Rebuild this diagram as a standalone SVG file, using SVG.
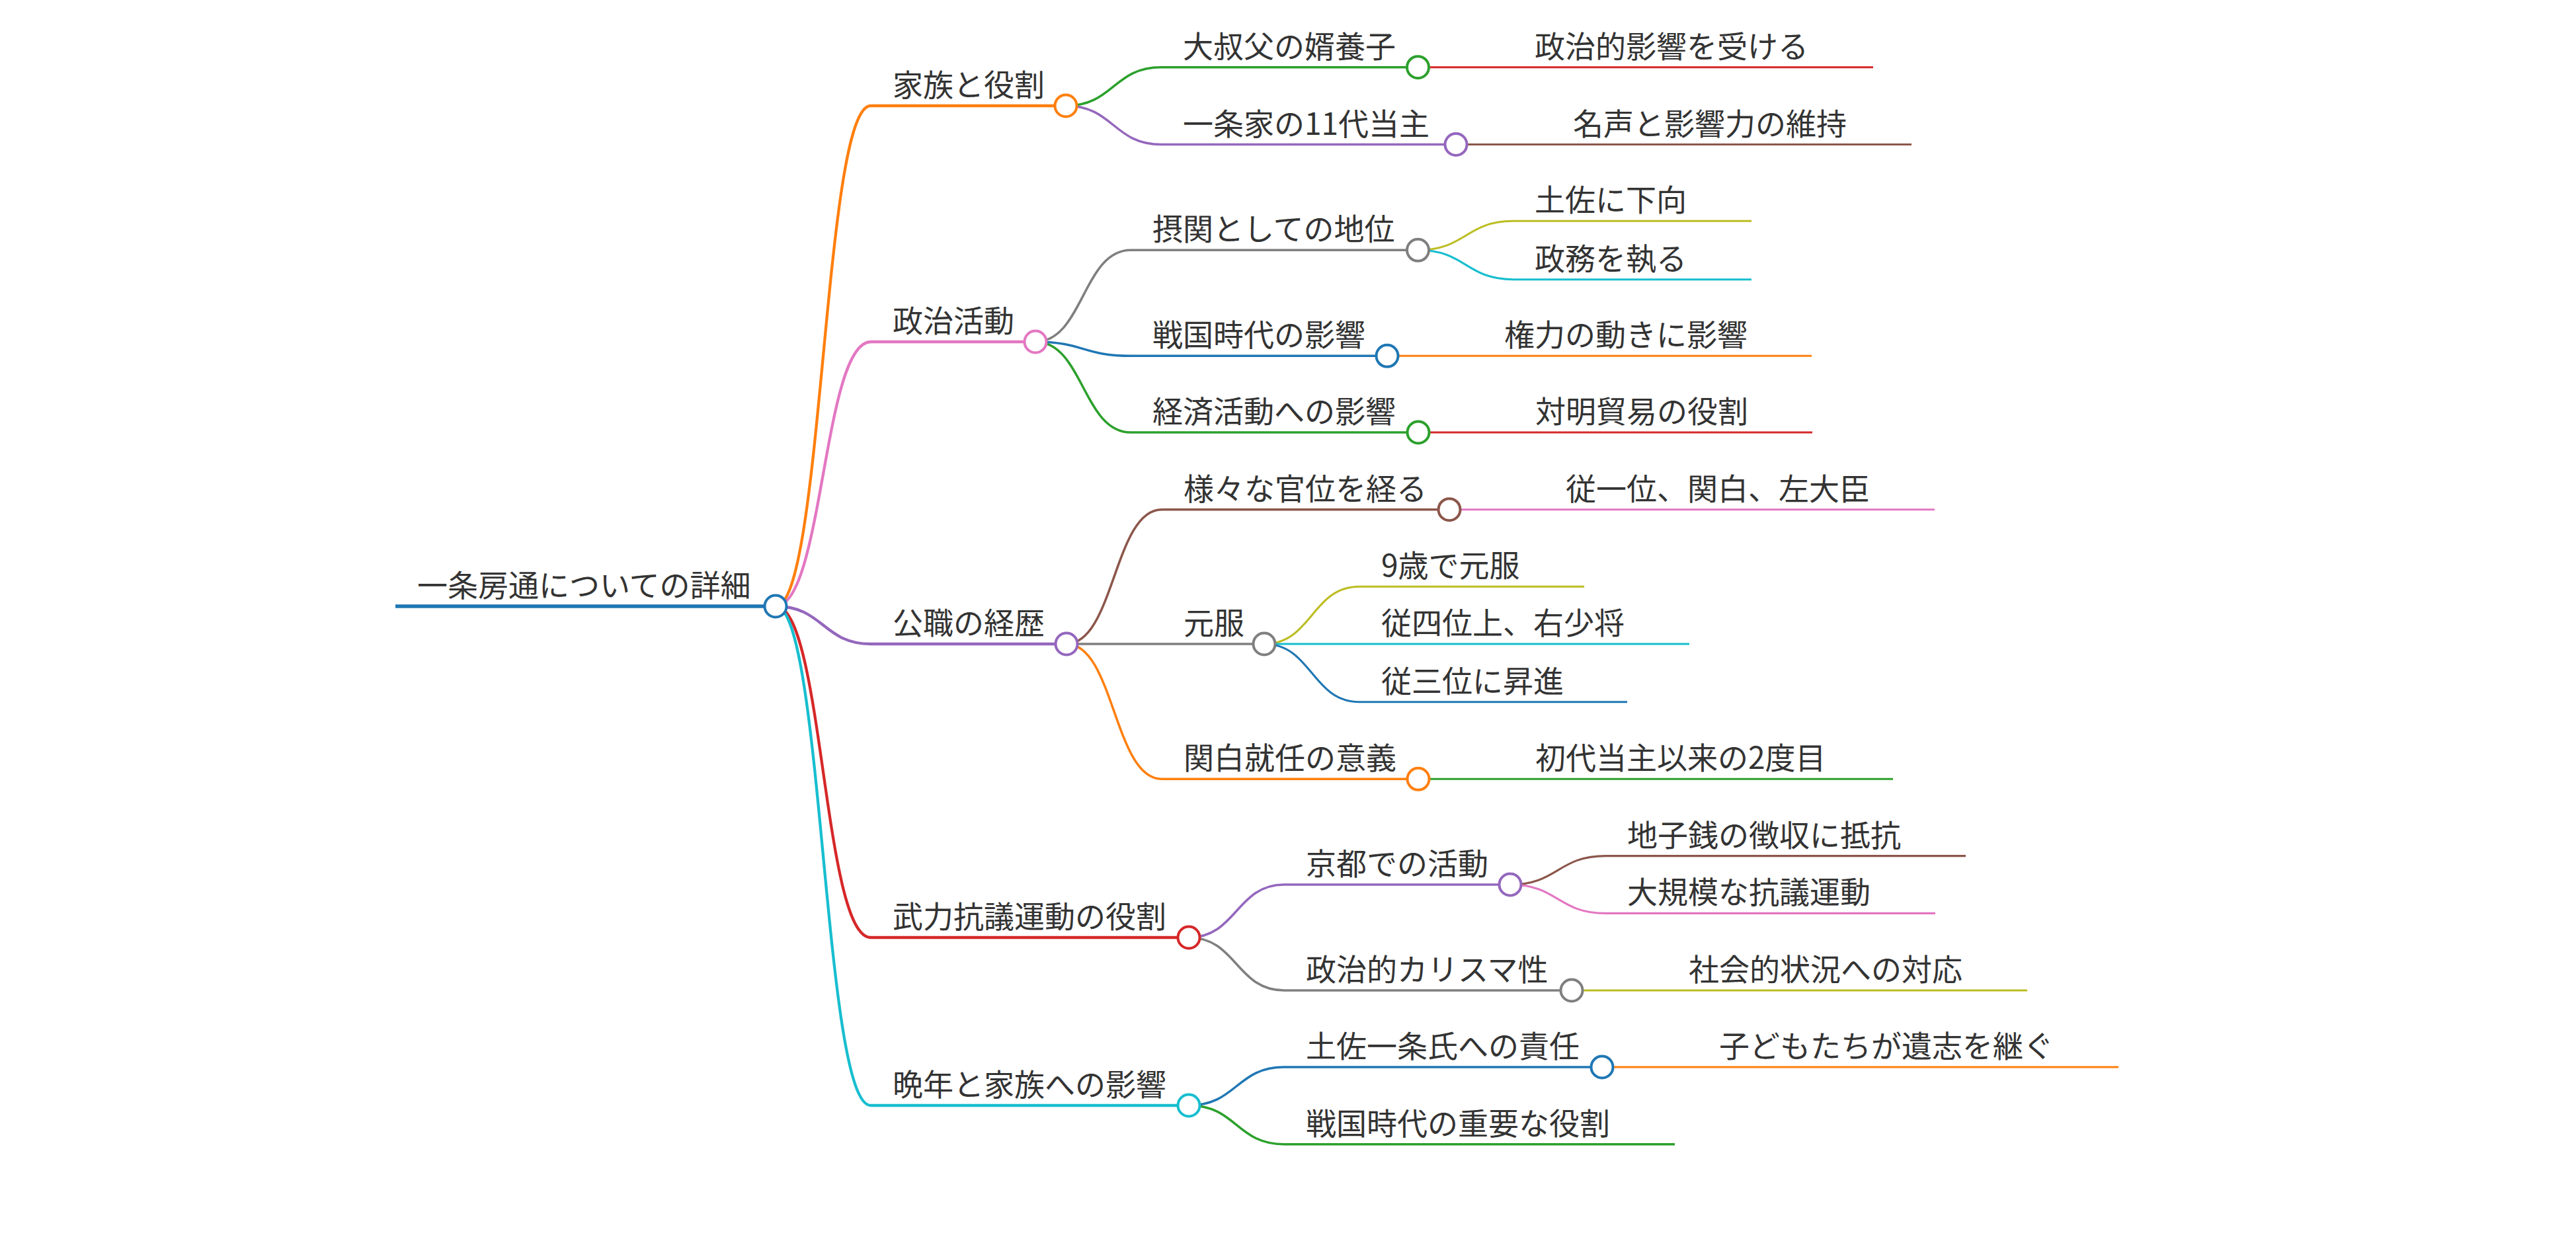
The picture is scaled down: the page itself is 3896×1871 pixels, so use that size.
<svg xmlns="http://www.w3.org/2000/svg" width="3896" height="1871" viewBox="0 0 3896 1871">
<style>
.t{font-family:"Noto Sans CJK JP","Noto Sans",sans-serif;font-size:46px;fill:#333333}
.lk{fill:none}
.c{fill:#ffffff;stroke-width:4}
.d0{stroke-width:5.4}.d1{stroke-width:4.3}.d2{stroke-width:3.5}.d3{stroke-width:3.1}
.c0{stroke:#1f77b4}.c1{stroke:#ff7f0e}.c2{stroke:#2ca02c}.c3{stroke:#d62728}.c4{stroke:#9467bd}
.c5{stroke:#8c564b}.c6{stroke:#e377c2}.c7{stroke:#7f7f7f}.c8{stroke:#bcbd22}.c9{stroke:#17becf}
</style>
<rect width="3896" height="1871" fill="#ffffff"/>
<g id="connectors" class="lk">
<path class="d1 c1" d="M1173 917 C1245 917 1245 160 1317 160"/>
<path class="d1 c6" d="M1173 917 C1245 917 1245 517 1317 517"/>
<path class="d1 c4" d="M1173 917 C1245 917 1245 974 1317 974"/>
<path class="d1 c3" d="M1173 917 C1245 917 1245 1418 1317 1418"/>
<path class="d1 c9" d="M1173 917 C1245 917 1245 1672 1317 1672"/>
<path class="d2 c2" d="M1612 160 C1684 160 1684 101.7 1756 101.7"/>
<path class="d2 c4" d="M1612 160 C1684 160 1684 218.5 1756 218.5"/>
<path class="d3 c3" d="M2144.5 101.7 L2289 101.7"/>
<path class="d3 c5" d="M2202 218.5 L2347 218.5"/>
<path class="d2 c7" d="M1566 517 C1638 517 1638 378.3 1710 378.3"/>
<path class="d2 c0" d="M1566 517 C1638 517 1638 538.3 1710 538.3"/>
<path class="d2 c2" d="M1566 517 C1638 517 1638 654 1710 654"/>
<path class="d3 c8" d="M2144.5 378.3 C2217 378.3 2217 334.3 2289 334.3"/>
<path class="d3 c9" d="M2144.5 378.3 C2217 378.3 2217 422.7 2289 422.7"/>
<path class="d3 c1" d="M2098 538.3 L2242 538.3"/>
<path class="d3 c3" d="M2145 654 L2289 654"/>
<path class="d2 c5" d="M1613 974 C1685 974 1685 770.7 1757 770.7"/>
<path class="d2 c7" d="M1613 974 C1685 974 1685 974 1757 974"/>
<path class="d2 c1" d="M1613 974 C1685 974 1685 1178.3 1757 1178.3"/>
<path class="d3 c6" d="M2192 770.7 L2336 770.7"/>
<path class="d3 c8" d="M1912 974 C1984 974 1984 887.3 2056 887.3"/>
<path class="d3 c9" d="M1912 974 L2056 974"/>
<path class="d3 c0" d="M1912 974 C1984 974 1984 1061.7 2056 1061.7"/>
<path class="d3 c2" d="M2145 1178.3 L2289 1178.3"/>
<path class="d2 c4" d="M1798 1418 C1870 1418 1870 1338 1942 1338"/>
<path class="d2 c7" d="M1798 1418 C1870 1418 1870 1498 1942 1498"/>
<path class="d3 c5" d="M2284 1338 C2356 1338 2356 1294.6 2428 1294.6"/>
<path class="d3 c6" d="M2284 1338 C2356 1338 2356 1381.4 2428 1381.4"/>
<path class="d3 c8" d="M2377 1498 L2521 1498"/>
<path class="d2 c0" d="M1798 1672 C1870 1672 1870 1614 1942 1614"/>
<path class="d2 c2" d="M1798 1672 C1870 1672 1870 1730.7 1942 1730.7"/>
<path class="d3 c1" d="M2423 1614 L2567 1614"/>
</g>
<g id="root"><line class="d0 c0" x1="598" y1="917" x2="1173" y2="917"/><circle class="c c0" cx="1173" cy="917" r="16.5"/><text class="t" x="631" y="902">一条房通についての詳細</text></g>
<g id="n1"><line class="d1 c1" x1="1317" y1="160" x2="1612" y2="160"/><circle class="c c1" cx="1612" cy="160" r="16.5"/><text class="t" x="1350" y="145">家族と役割</text></g>
<g id="n1a"><line class="d2 c2" x1="1756" y1="101.7" x2="2144.5" y2="101.7"/><circle class="c c2" cx="2144.5" cy="101.7" r="16.5"/><text class="t" x="1789" y="86.7">大叔父の婿養子</text></g>
<g id="n1a1"><line class="d3 c3" x1="2289" y1="101.7" x2="2833" y2="101.7"/><text class="t" x="2321" y="86.7">政治的影響を受ける</text></g>
<g id="n1b"><line class="d2 c4" x1="1756" y1="218.5" x2="2202" y2="218.5"/><circle class="c c4" cx="2202" cy="218.5" r="16.5"/><text class="t" x="1789" y="203.5">一条家の11代当主</text></g>
<g id="n1b1"><line class="d3 c5" x1="2347" y1="218.5" x2="2891" y2="218.5"/><text class="t" x="2379" y="203.5">名声と影響力の維持</text></g>
<g id="n2"><line class="d1 c6" x1="1317" y1="517" x2="1566" y2="517"/><circle class="c c6" cx="1566" cy="517" r="16.5"/><text class="t" x="1350" y="502">政治活動</text></g>
<g id="n2a"><line class="d2 c7" x1="1710" y1="378.3" x2="2144.5" y2="378.3"/><circle class="c c7" cx="2144.5" cy="378.3" r="16.5"/><text class="t" x="1743" y="363.3">摂関としての地位</text></g>
<g id="n2a1"><line class="d3 c8" x1="2289" y1="334.3" x2="2649" y2="334.3"/><text class="t" x="2321" y="319.3">土佐に下向</text></g>
<g id="n2a2"><line class="d3 c9" x1="2289" y1="422.7" x2="2649" y2="422.7"/><text class="t" x="2321" y="407.7">政務を執る</text></g>
<g id="n2b"><line class="d2 c0" x1="1710" y1="538.3" x2="2098" y2="538.3"/><circle class="c c0" cx="2098" cy="538.3" r="16.5"/><text class="t" x="1743" y="523.3">戦国時代の影響</text></g>
<g id="n2b1"><line class="d3 c1" x1="2242" y1="538.3" x2="2740" y2="538.3"/><text class="t" x="2275" y="523.3">権力の動きに影響</text></g>
<g id="n2c"><line class="d2 c2" x1="1710" y1="654" x2="2145" y2="654"/><circle class="c c2" cx="2145" cy="654" r="16.5"/><text class="t" x="1743" y="639">経済活動への影響</text></g>
<g id="n2c1"><line class="d3 c3" x1="2289" y1="654" x2="2741" y2="654"/><text class="t" x="2322" y="639">対明貿易の役割</text></g>
<g id="n3"><line class="d1 c4" x1="1317" y1="974" x2="1613" y2="974"/><circle class="c c4" cx="1613" cy="974" r="16.5"/><text class="t" x="1350" y="959">公職の経歴</text></g>
<g id="n3a"><line class="d2 c5" x1="1757" y1="770.7" x2="2192" y2="770.7"/><circle class="c c5" cx="2192" cy="770.7" r="16.5"/><text class="t" x="1790" y="755.7">様々な官位を経る</text></g>
<g id="n3a1"><line class="d3 c6" x1="2336" y1="770.7" x2="2926" y2="770.7"/><text class="t" x="2368" y="755.7">従一位、関白、左大臣</text></g>
<g id="n3b"><line class="d2 c7" x1="1757" y1="974" x2="1912" y2="974"/><circle class="c c7" cx="1912" cy="974" r="16.5"/><text class="t" x="1790" y="959">元服</text></g>
<g id="n3b1"><line class="d3 c8" x1="2056" y1="887.3" x2="2396" y2="887.3"/><text class="t" x="2089" y="872.3">9歳で元服</text></g>
<g id="n3b2"><line class="d3 c9" x1="2056" y1="974" x2="2555" y2="974"/><text class="t" x="2089" y="959">従四位上、右少将</text></g>
<g id="n3b3"><line class="d3 c0" x1="2056" y1="1061.7" x2="2461" y2="1061.7"/><text class="t" x="2089" y="1046.7">従三位に昇進</text></g>
<g id="n3c"><line class="d2 c1" x1="1757" y1="1178.3" x2="2145" y2="1178.3"/><circle class="c c1" cx="2145" cy="1178.3" r="16.5"/><text class="t" x="1790" y="1163.3">関白就任の意義</text></g>
<g id="n3c1"><line class="d3 c2" x1="2289" y1="1178.3" x2="2863" y2="1178.3"/><text class="t" x="2322" y="1163.3">初代当主以来の2度目</text></g>
<g id="n4"><line class="d1 c3" x1="1317" y1="1418" x2="1798" y2="1418"/><circle class="c c3" cx="1798" cy="1418" r="16.5"/><text class="t" x="1350" y="1403">武力抗議運動の役割</text></g>
<g id="n4a"><line class="d2 c4" x1="1942" y1="1338" x2="2284" y2="1338"/><circle class="c c4" cx="2284" cy="1338" r="16.5"/><text class="t" x="1975" y="1323">京都での活動</text></g>
<g id="n4a1"><line class="d3 c5" x1="2428" y1="1294.6" x2="2973" y2="1294.6"/><text class="t" x="2461" y="1279.6">地子銭の徴収に抵抗</text></g>
<g id="n4a2"><line class="d3 c6" x1="2428" y1="1381.4" x2="2927" y2="1381.4"/><text class="t" x="2461" y="1366.4">大規模な抗議運動</text></g>
<g id="n4b"><line class="d2 c7" x1="1942" y1="1498" x2="2377" y2="1498"/><circle class="c c7" cx="2377" cy="1498" r="16.5"/><text class="t" x="1975" y="1483">政治的カリスマ性</text></g>
<g id="n4b1"><line class="d3 c8" x1="2521" y1="1498" x2="3066" y2="1498"/><text class="t" x="2554" y="1483">社会的状況への対応</text></g>
<g id="n5"><line class="d1 c9" x1="1317" y1="1672" x2="1798" y2="1672"/><circle class="c c9" cx="1798" cy="1672" r="16.5"/><text class="t" x="1350" y="1657">晩年と家族への影響</text></g>
<g id="n5a"><line class="d2 c0" x1="1942" y1="1614" x2="2423" y2="1614"/><circle class="c c0" cx="2423" cy="1614" r="16.5"/><text class="t" x="1975" y="1599">土佐一条氏への責任</text></g>
<g id="n5a1"><line class="d3 c1" x1="2567" y1="1614" x2="3204" y2="1614"/><text class="t" x="2600" y="1599">子どもたちが遺志を継ぐ</text></g>
<g id="n5b"><line class="d2 c2" x1="1942" y1="1730.7" x2="2533" y2="1730.7"/><text class="t" x="1975" y="1715.7">戦国時代の重要な役割</text></g>
</svg>
